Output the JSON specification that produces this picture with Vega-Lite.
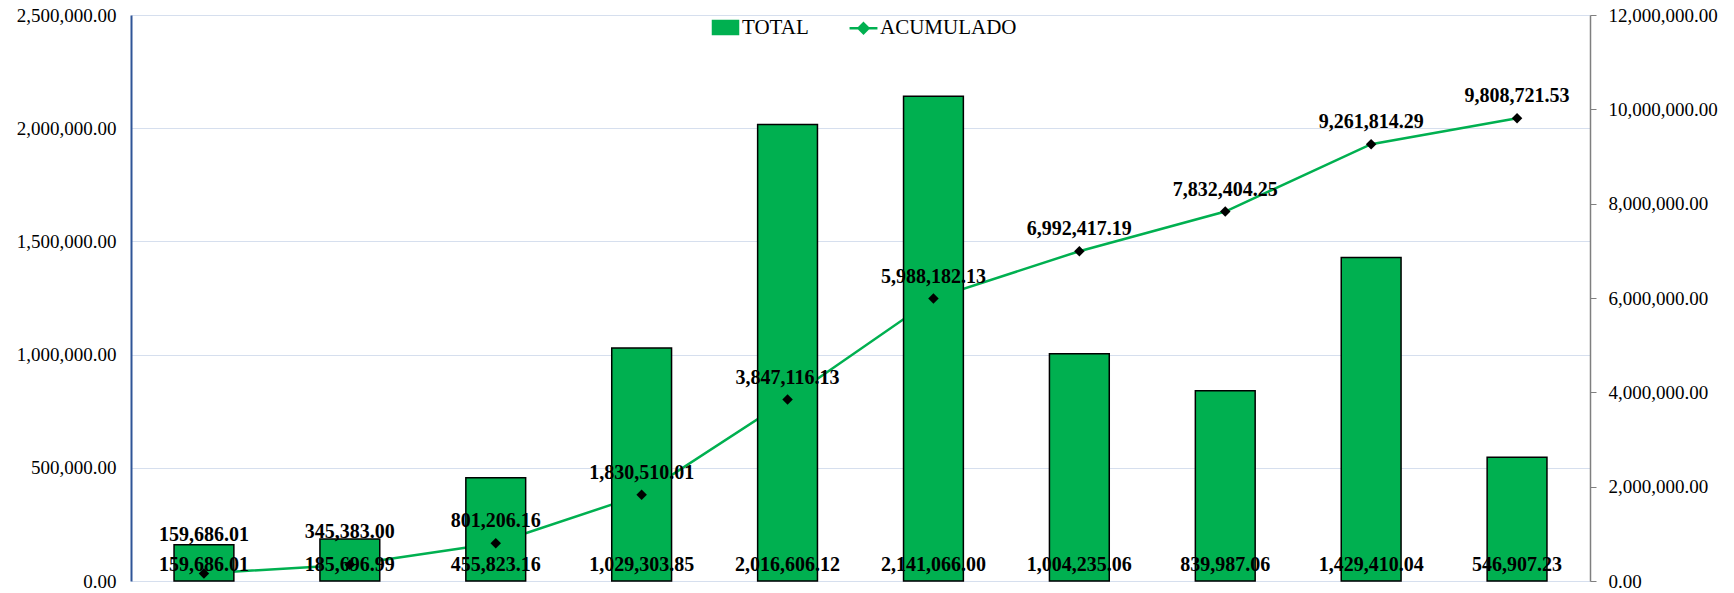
{
  "$schema": "https://vega.github.io/schema/vega-lite/v6.json",
  "autosize": "none",
  "width": 1459,
  "height": 566,
  "padding": {"left": 131, "top": 15, "right": 144, "bottom": 12},
  "background": "white",
  "config": {
    "view": {"stroke": null},
    "font": "Liberation Serif",
    "axis": {"labelFont": "Liberation Serif", "labelColor": "#000000"},
    "legend": {"labelFont": "Liberation Serif", "labelColor": "#000000"}
  },
  "data": {"values": [
    {"n": 1, "TOTAL": 159686.01, "ACUMULADO": 159686.01},
    {"n": 2, "TOTAL": 185696.99, "ACUMULADO": 345383.00},
    {"n": 3, "TOTAL": 455823.16, "ACUMULADO": 801206.16},
    {"n": 4, "TOTAL": 1029303.85, "ACUMULADO": 1830510.01},
    {"n": 5, "TOTAL": 2016606.12, "ACUMULADO": 3847116.13},
    {"n": 6, "TOTAL": 2141066.00, "ACUMULADO": 5988182.13},
    {"n": 7, "TOTAL": 1004235.06, "ACUMULADO": 6992417.19},
    {"n": 8, "TOTAL": 839987.06, "ACUMULADO": 7832404.25},
    {"n": 9, "TOTAL": 1429410.04, "ACUMULADO": 9261814.29},
    {"n": 10, "TOTAL": 546907.23, "ACUMULADO": 9808721.53}
  ]},
  "encoding": {
    "x": {"field": "n", "type": "ordinal", "axis": null, "scale": {"paddingInner": 0, "paddingOuter": 0}}
  },
  "layer": [
    {
      "mark": {"type": "line", "strokeWidth": 2.5},
      "encoding": {
        "y": {"field": "ACUMULADO", "type": "quantitative", "scale": {"domain": [0, 12000000], "nice": false},
          "axis": {"orient": "right", "format": ",.2f", "values": [0, 2000000, 4000000, 6000000, 8000000, 10000000, 12000000], "title": null, "grid": false,
            "domainColor": "#7F7F7F", "domainWidth": 1.5, "tickColor": "#7F7F7F", "tickSize": 6, "labelPadding": 12,
            "labelFont": "Liberation Serif", "labelFontSize": 19, "labelColor": "#000000"}},
        "color": {"datum": "ACUMULADO", "type": "nominal"}
      }
    },
    {
      "mark": {"type": "bar", "width": {"band": 0.41}, "stroke": "#000000", "strokeWidth": 1.5},
      "encoding": {
        "y": {"field": "TOTAL", "type": "quantitative", "scale": {"domain": [0, 2500000], "nice": false},
          "axis": {"orient": "left", "format": ",.2f", "values": [0, 500000, 1000000, 1500000, 2000000, 2500000], "title": null,
            "grid": true, "gridColor": "#D6DFEE", "gridWidth": 1, "ticks": false,
            "domainColor": "#2F5597", "domainWidth": 2, "labelPadding": 15,
            "labelFont": "Liberation Serif", "labelFontSize": 19, "labelColor": "#000000"}},
        "color": {"datum": "TOTAL", "type": "nominal",
          "scale": {"domain": ["TOTAL", "ACUMULADO"], "range": ["#00B050", "#00B050"]},
          "legend": {"title": null, "orient": "none", "legendX": 584, "legendY": 2, "direction": "horizontal",
            "padding": 0, "symbolSize": 324, "labelOffset": 6, "columnPadding": 35,
            "labelFont": "Liberation Serif", "labelFontSize": 21, "labelColor": "#000000",
            "symbolType": {"expr": "datum.value === 'TOTAL' ? 'M-1.39,-0.72H1.39V0.72H-1.39Z' : 'M-1.55,0H1.55M0,-0.55L0.55,0L0,0.55L-0.55,0Z'"},
            "symbolFillColor": {"expr": "datum.value === 'TOTAL' ? '#00B050' : '#000000'"},
            "symbolStrokeColor": {"expr": "datum.value === 'TOTAL' ? '#000000' : '#00B050'"},
            "symbolStrokeWidth": 2.5,
            "symbolOpacity": 1}}
      }
    },
    {
      "mark": {"type": "text", "fontWeight": "bold", "fontSize": 20, "font": "Liberation Serif", "baseline": "middle", "dy": -16, "color": "#000000"},
      "encoding": {
        "y": {"datum": 0, "type": "quantitative", "scale": {"domain": [0, 2500000], "nice": false}, "axis": null},
        "text": {"field": "TOTAL", "type": "quantitative", "format": ",.2f"}
      }
    },
    {
      "mark": {"type": "point", "shape": "diamond", "filled": true, "size": 110, "color": "#000000", "opacity": 1},
      "encoding": {
        "y": {"field": "ACUMULADO", "type": "quantitative", "scale": {"domain": [0, 12000000], "nice": false}, "axis": null}
      }
    },
    {
      "mark": {"type": "text", "fontWeight": "bold", "fontSize": 20, "font": "Liberation Serif", "baseline": "middle", "color": "#000000",
        "dy": {"expr": "datum.ACUMULADO < 200000 ? -38 : (datum.ACUMULADO < 500000 ? -33 : -22)"}},
      "encoding": {
        "y": {"field": "ACUMULADO", "type": "quantitative", "scale": {"domain": [0, 12000000], "nice": false}, "axis": null},
        "text": {"field": "ACUMULADO", "type": "quantitative", "format": ",.2f"}
      }
    }
  ],
  "resolve": {"scale": {"y": "independent"}}
}
